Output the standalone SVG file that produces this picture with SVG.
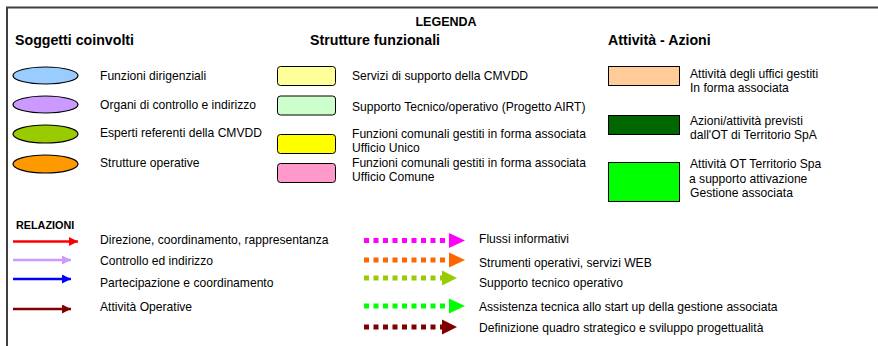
<svg xmlns="http://www.w3.org/2000/svg" width="878" height="346" viewBox="0 0 878 346">
<style>
text{font-family:"Liberation Sans",Arial,sans-serif;font-size:12.1px;fill:#000}
.h{font-weight:bold;font-size:14.2px}
.t{font-weight:bold;font-size:12.5px}
.r{font-weight:bold;font-size:10.8px}
.el{stroke:#000;stroke-width:1.2}
.bx{stroke:#000;stroke-width:1}
.sl{fill:none;stroke-width:2.5}
.dl{fill:none;stroke-width:5;stroke-dasharray:5 4.5}
</style>
<defs>
<marker id="mr" markerWidth="10" markerHeight="10" refX="9" refY="4.5" orient="auto" markerUnits="userSpaceOnUse"><path d="M0,0L9,4.5L0,9Z" fill="#FF0000"/></marker>
<marker id="ml" markerWidth="10" markerHeight="10" refX="9" refY="4.5" orient="auto" markerUnits="userSpaceOnUse"><path d="M0,0L9,4.5L0,9Z" fill="#CC99FF"/></marker>
<marker id="mb" markerWidth="10" markerHeight="10" refX="9" refY="4.5" orient="auto" markerUnits="userSpaceOnUse"><path d="M0,0L9,4.5L0,9Z" fill="#0000FF"/></marker>
<marker id="md" markerWidth="10" markerHeight="10" refX="9" refY="4.5" orient="auto" markerUnits="userSpaceOnUse"><path d="M0,0L9,4.5L0,9Z" fill="#800000"/></marker>
</defs>
<g id="frame" fill="none" stroke="#404040" stroke-width="2">
<line x1="6" y1="7.5" x2="878" y2="7.5"/>
<line x1="7" y1="7" x2="7" y2="346"/>
</g>
<g id="titles">
<text x="446" y="26" class="t" text-anchor="middle">LEGENDA</text>
<text x="15" y="45" class="h">Soggetti coinvolti</text>
<text x="310" y="45" class="h">Strutture funzionali</text>
<text x="608" y="45" class="h">Attività - Azioni</text>
<text x="16" y="229" class="r">RELAZIONI</text>
</g>
<g id="soggetto-funzioni-dirigenziali"><ellipse class="el" cx="45.5" cy="75.5" rx="32.5" ry="8.5" fill="#99CCFF"/><text x="100" y="79.5">Funzioni dirigenziali</text></g>
<g id="soggetto-organi-controllo"><ellipse class="el" cx="45.5" cy="104.5" rx="32.5" ry="8.5" fill="#CC99FF"/><text x="100" y="108.5">Organi di controllo e indirizzo</text></g>
<g id="soggetto-esperti"><ellipse class="el" cx="45.5" cy="134" rx="32.5" ry="9" fill="#99CC00"/><text x="100" y="137">Esperti referenti della CMVDD</text></g>
<g id="soggetto-strutture-operative"><ellipse class="el" cx="45.5" cy="164" rx="32.5" ry="9" fill="#FF9900"/><text x="100" y="167">Strutture operative</text></g>
<g id="struttura-servizi"><rect class="bx" x="277.5" y="66.5" width="58" height="19" rx="3" fill="#FFFF99"/><text x="352" y="80">Servizi di supporto della CMVDD</text></g>
<g id="struttura-supporto"><rect class="bx" x="277.5" y="96" width="58" height="19" rx="3" fill="#CCFFCC"/><text x="352" y="111">Supporto Tecnico/operativo (Progetto AIRT)</text></g>
<g id="struttura-ufficio-unico"><rect class="bx" x="277.5" y="134.5" width="58" height="19" rx="3" fill="#FFFF00"/><text x="352" y="138">Funzioni comunali gestiti in forma associata</text><text x="352" y="152">Ufficio Unico</text></g>
<g id="struttura-ufficio-comune"><rect class="bx" x="277.5" y="163.5" width="58" height="19" rx="3" fill="#FF99CC"/><text x="352" y="167">Funzioni comunali gestiti in forma associata</text><text x="352" y="181">Ufficio Comune</text></g>
<g id="attivita-uffici"><rect class="bx" x="608.5" y="66.5" width="71" height="19" fill="#FFCC99"/><text x="690" y="78">Attività degli uffici gestiti</text><text x="690" y="92">In forma associata</text></g>
<g id="attivita-ot"><rect class="bx" x="608.5" y="115.5" width="71" height="19" fill="#006600"/><text x="690" y="125">Azioni/attività previsti</text><text x="690" y="139">dall'OT di Territorio SpA</text></g>
<g id="attivita-ot-spa"><rect class="bx" x="608.5" y="162.5" width="71" height="39" fill="#00FF00"/><text x="690" y="168">Attività OT Territorio Spa</text><text x="689" y="183">a supporto attivazione</text><text x="690" y="197">Gestione associata</text></g>
<g id="connectors">
<line class="sl" x1="13" y1="241.5" x2="78" y2="241.5" stroke="#FF0000" marker-end="url(#mr)"/>
<line class="sl" x1="13" y1="260" x2="71" y2="260" stroke="#CC99FF" marker-end="url(#ml)"/>
<line class="sl" x1="13" y1="279" x2="71" y2="279" stroke="#0000FF" marker-end="url(#mb)"/>
<line class="sl" x1="13" y1="309" x2="71" y2="309" stroke="#800000" marker-end="url(#md)"/>
<line class="dl" x1="364" y1="240.5" x2="449" y2="240.5" stroke="#FF00FF"/><path d="M449,233L465,240.5L449,248Z" fill="#FF00FF"/>
<line class="dl" x1="364" y1="260" x2="449" y2="260" stroke="#FF6600"/><path d="M449,252.5L465,260L449,267.5Z" fill="#FF6600"/>
<line class="dl" x1="364" y1="278" x2="442" y2="278" stroke="#99CC00"/><path d="M442,270.5L457,278L442,285.5Z" fill="#99CC00"/>
<line class="dl" x1="364" y1="306" x2="449" y2="306" stroke="#00FF00"/><path d="M449,298.5L465,306L449,313.5Z" fill="#00FF00"/>
<line class="dl" x1="364" y1="327" x2="442" y2="327" stroke="#800000"/><path d="M442,319.5L457,327L442,334.5Z" fill="#800000"/>
</g>
<g id="relation-labels">
<text x="100" y="244">Direzione, coordinamento, rappresentanza</text>
<text x="100" y="265">Controllo ed indirizzo</text>
<text x="100" y="287">Partecipazione e coordinamento</text>
<text x="100" y="311">Attività Operative</text>
<text x="479" y="243">Flussi informativi</text>
<text x="479" y="267">Strumenti operativi, servizi WEB</text>
<text x="479" y="287">Supporto tecnico operativo</text>
<text x="479" y="311">Assistenza tecnica allo start up della gestione associata</text>
<text x="479" y="332">Definizione quadro strategico e sviluppo progettualità</text>
</g>
</svg>
